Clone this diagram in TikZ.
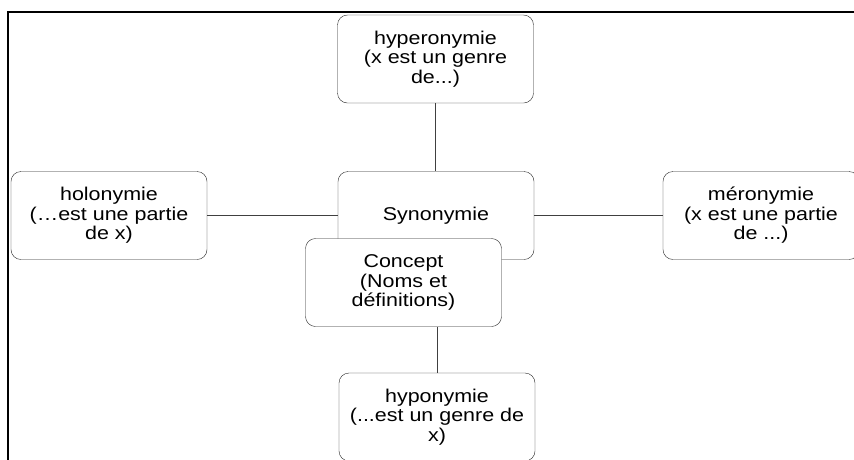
\documentclass[tikz,border=0pt]{standalone}
\usepackage{fontspec}
\newfontfamily\boxfont{Liberation Sans}[FakeStretch=1.16]
\usetikzlibrary{positioning}

\tikzset{
  relbox/.style={draw=black!85, thin, rounded corners=10pt, fill=white,
    minimum width=196pt, minimum height=88pt, align=center,
    font=\boxfont\fontsize{18.5}{19.5}\selectfont},
  link/.style={draw=black!75, thin}
}

\begin{document}
\begin{tikzpicture}[x=1pt, y=-1pt]
  \clip (0,0) rectangle (854,459);
  \fill[white] (0,0) rectangle (854,459);

  % Page frame
  \draw[line width=2pt] (8,462) -- (8,12) -- (858,12);

  % --- Relation boxes ---
  \node[relbox] (syn)   at (436,215.5) {Synonymie};
  \node[relbox] (hyper) at (435.5,59) {hyperonymie\\(x est un genre\\de...)};
  \node[relbox] (holo)  at (109,215.5) {holonymie\\(\dots est une partie\\de x)};
  \node[relbox] (mero)  at (761,215.5) {méronymie\\(x est une partie\\de ...)};
  \node[relbox] (hypo)  at (437,417) {hyponymie\\(...est un genre de\\x)};

  % Connectors
  \draw[link] (hyper.south) -- (hyper.south |- syn.north);
  \draw[link] (holo.east) -- (syn.west);
  \draw[link] (syn.east) -- (mero.west);

  % --- Concept on top of Synonymie ---
  \node[relbox] (concept) at (403.5,282.5) {Concept\\(Noms et\\définitions)};
  \draw[link] (hypo.north) -- (hypo.north |- concept.south);
\end{tikzpicture}
\end{document}
